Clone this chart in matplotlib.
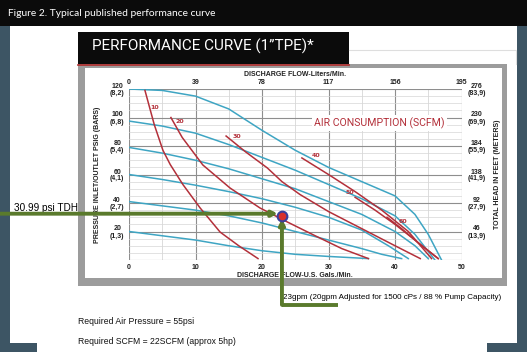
import matplotlib.pyplot as plt
from matplotlib.patches import Rectangle

# ---- chart data ----
gpm_ticks = [0, 10, 20, 30, 40, 50]
lpm_labels = ["0", "39", "78", "117", "156", "195"]
psi_ticks = [20, 40, 60, 80, 100, 120]
psi_labels = ["20\n(1,3)", "40\n(2,7)", "60\n(4,1)", "80\n(5,4)", "100\n(6,8)", "120\n(8,2)"]
head_labels = ["46\n(13,9)", "92\n(27,9)", "138\n(41,9)", "184\n(55,9)", "230\n(69,9)", "276\n(83,9)"]

# inlet air pressure curves (blue)
flow_p120 = [0, 5, 10, 15, 20, 25, 30, 35, 40, 43, 45, 47]
head_p120 = [120, 119, 115, 106, 91, 77, 65, 55, 45, 32, 18, 0]
flow_p100 = [0, 5, 10, 15, 20, 25, 30, 35, 40, 43, 46]
head_p100 = [97.5, 94, 89, 81, 72, 63, 53, 43, 31, 18, 0]
flow_p80 = [0, 5, 10, 15, 20, 25, 30, 35, 40, 43, 45]
head_p80 = [79, 75, 70, 64, 57, 50, 41, 32, 20, 10, 1]
flow_p60 = [0, 5, 10, 15, 20, 25, 30, 35, 39, 42]
head_p60 = [60, 56.5, 52.5, 48, 43, 37, 30, 21, 10, 1]
flow_p40 = [0, 5, 10, 15, 20, 25, 30, 35, 38, 41]
head_p40 = [41, 38, 35, 31, 26, 20, 14, 8, 4, 1]
flow_p20 = [0, 5, 10, 15, 20, 25, 30, 36]
head_p20 = [20, 17, 14, 10, 6.5, 4, 2.5, 1]

# air consumption curves (red), label value and label position
flow_s10 = [2.4, 3.8, 5.1, 6.2, 8.1, 10.7, 13.7, 16.5, 19.4]
head_s10 = [119, 95, 77, 67, 53, 36.5, 19.6, 10, 1]
flow_s20 = [6.3, 8, 11.1, 15.2, 19.7, 23.8, 28, 32, 36]
head_s20 = [100, 86, 66.7, 50.5, 36.5, 26.7, 17, 8, 1]
flow_s30 = [14.6, 17.5, 20.8, 23, 25.7, 30, 35, 40, 43.8]
head_s30 = [87, 76, 64.6, 55, 46, 34, 22, 10, 1]
flow_s40 = [26, 30, 34, 38, 42, 45.5]
head_s40 = [71.6, 60, 48, 35, 20, 1]
flow_s50 = [34, 37, 40, 43, 46.5]
head_s50 = [44, 35, 25, 14, 1]
flow_s60 = [38.8, 41, 43.5, 46.5]
head_s60 = [30, 22, 12, 1]
scfm_values = [10, 20, 30, 40, 50, 60]
scfm_label_flow = [3.9, 7.7, 16.2, 28.1, 33.2, 41.2]
scfm_label_head = [107, 97, 87, 73, 47.7, 26.7]

# duty point
duty_gpm = 23
duty_psi = 30.99

BLUE = '#3ea5c3'
RED = '#b3303a'
GREEN = '#5a7a2c'
SLATE = '#3d5564'
W, H = 527, 352

fig = plt.figure(figsize=(W / 100, H / 100), dpi=100)
fig.patch.set_facecolor('white')

# page furniture in pixel coordinates
bg = fig.add_axes([0, 0, 1, 1])
bg.set_xlim(0, W)
bg.set_ylim(H, 0)
bg.axis('off')
bg.add_patch(Rectangle((0, 26), 10, H - 26, color=SLATE, lw=0))
bg.add_patch(Rectangle((517, 26), 10, H - 26, color=SLATE, lw=0))
bg.add_patch(Rectangle((0, 343), 37, 9, color=SLATE, lw=0))
bg.add_patch(Rectangle((487, 343), 40, 9, color=SLATE, lw=0))
bg.add_patch(Rectangle((0, 0), W, 26, color='#0b0b0b', lw=0))
bg.plot([349, 516, 516], [50, 50, 64], color='#dedede', lw=0.8)
bg.add_patch(Rectangle((78, 64), 429, 222, color='#9c9c9c', lw=0))
bg.add_patch(Rectangle((85, 68), 417, 210, color='white', lw=0))
bg.add_patch(Rectangle((78, 32), 271, 32, color='#0b0b0b', lw=0))
bg.plot([78, 349], [65, 65], color='#b02a2a', lw=1.2)
bg.text(8, 14, "Figure 2. Typical published performance curve", color='white',
        fontsize=7.4, family='Lato', va='center')
bg.text(92, 46, "PERFORMANCE CURVE (1\u201dTPE)*", color='white', fontsize=11,
        family='Roboto', va='center')
bg.text(78, 322, "Required Air Pressure = 55psi", fontsize=6.2,
        family='Liberation Sans', va='center', color='#111111')
bg.text(78, 342, "Required SCFM = 22SCFM (approx 5hp)", fontsize=6.2,
        family='Liberation Sans', va='center', color='#111111')

# the chart
ax = fig.add_axes([129 / W, (H - 260) / H, (461.5 - 129) / W, (260 - 89) / H])
ax.set_xlim(0, 50)
ax.set_ylim(0, 120)
ax.patch.set_alpha(0)
for s in ax.spines.values():
    s.set_visible(False)

for x in range(0, 51, 5):
    ax.axvline(x, color='#8e8e8e' if x % 10 == 0 else '#cfcfcf',
               lw=0.8 if x % 10 == 0 else 0.5, zorder=0)
for y in range(0, 121, 5):
    ax.axhline(y, color='#8e8e8e' if y % 20 == 0 else '#d6d6d6',
               lw=0.8 if y % 20 == 0 else 0.5, zorder=0)

blue_curves = [(flow_p120, head_p120), (flow_p100, head_p100), (flow_p80, head_p80),
               (flow_p60, head_p60), (flow_p40, head_p40), (flow_p20, head_p20)]
red_curves = [(flow_s10, head_s10), (flow_s20, head_s20), (flow_s30, head_s30),
              (flow_s40, head_s40), (flow_s50, head_s50), (flow_s60, head_s60)]
for fx, hy in blue_curves:
    ax.plot(fx, hy, color=BLUE, lw=1.1, zorder=2)
for fx, hy in red_curves:
    ax.plot(fx, hy, color=RED, lw=1.1, zorder=2)
for v, lx, ly in zip(scfm_values, scfm_label_flow, scfm_label_head):
    ax.text(lx, ly, str(v), color=RED, fontsize=4.5, fontweight='bold',
            ha='center', va='center', zorder=3)

ax.text(37.7, 96, "AIR CONSUMPTION (SCFM)", color=RED, fontsize=7.6,
        family='Roboto', ha='center', va='center',
        bbox=dict(facecolor='white', edgecolor='none', pad=1.5), zorder=3)

tick_font = dict(fontsize=5, fontweight='bold', family='Liberation Sans', color='#222222')
ax.set_xticks(gpm_ticks)
ax.set_xticklabels([str(t) for t in gpm_ticks], **tick_font)
ax.set_yticks(psi_ticks)
ax.set_yticklabels(psi_labels, ha='center', linespacing=1.0, **tick_font)
ax.tick_params(length=0)
ax.tick_params(axis='x', pad=3)
ax.tick_params(axis='y', pad=8.5)

top = ax.secondary_xaxis('top')
top.set_xticks(gpm_ticks)
top.set_xticklabels(lpm_labels, **tick_font)
top.tick_params(length=0, pad=2)
top.spines['top'].set_visible(False)

right = ax.secondary_yaxis('right')
right.set_yticks(psi_ticks)
right.set_yticklabels(head_labels, ha='center', linespacing=1.0, **tick_font)
right.tick_params(length=0, pad=11)
right.spines['right'].set_visible(False)

lab_font = dict(fontsize=5, fontweight='bold', family='Liberation Sans', color='#222222')
ax.set_xlabel("DISCHARGE FLOW-U.S. Gals./Min.", labelpad=0.5, **lab_font)
top.set_xlabel("DISCHARGE FLOW-Liters/Min.", labelpad=2.5, **lab_font)
ax.set_ylabel("PRESSURE INLET/OUTLET PSIG (BARS)", **lab_font)
ax.yaxis.set_label_coords(-28 / 332.5, 0.5)
right.set_ylabel("TOTAL HEAD IN FEET (METERS)", rotation=90, labelpad=6, **lab_font)

# duty point and the green call-out lines
ax.plot([duty_gpm], [duty_psi], 'o', ms=7, mfc='#d8302c', mec='#3a3f9c', mew=1.5,
        zorder=6, clip_on=False)
ax.annotate("", xy=(duty_gpm - 0.6, duty_psi + 1.5), xytext=(-19.5, duty_psi + 1.5),
            arrowprops=dict(arrowstyle='-|>', color=GREEN, lw=2.8, mutation_scale=8,
                            shrinkA=0, shrinkB=0), annotation_clip=False, zorder=5)
ax.annotate("", xy=(duty_gpm, duty_psi - 2), xytext=(duty_gpm, -31.5),
            arrowprops=dict(arrowstyle='-|>', color=GREEN, lw=2.8, mutation_scale=8,
                            shrinkA=0, shrinkB=0), annotation_clip=False, zorder=5)
ax.plot([duty_gpm, 31.5], [-31.5, -31.5], color=GREEN, lw=2.8, clip_on=False,
        solid_capstyle='butt', zorder=5)
ax.text(-17.3, duty_psi + 5.5, "30.99 psi TDH", fontsize=7.2, family='Liberation Sans',
        va='center', clip_on=False)
ax.text(duty_gpm + 0.2, -26, "23gpm (20gpm Adjusted for 1500 cPs / 88 % Pump Capacity)",
        fontsize=5.8, family='Liberation Sans', va='center', clip_on=False)

fig.savefig('out.png', dpi=100)
